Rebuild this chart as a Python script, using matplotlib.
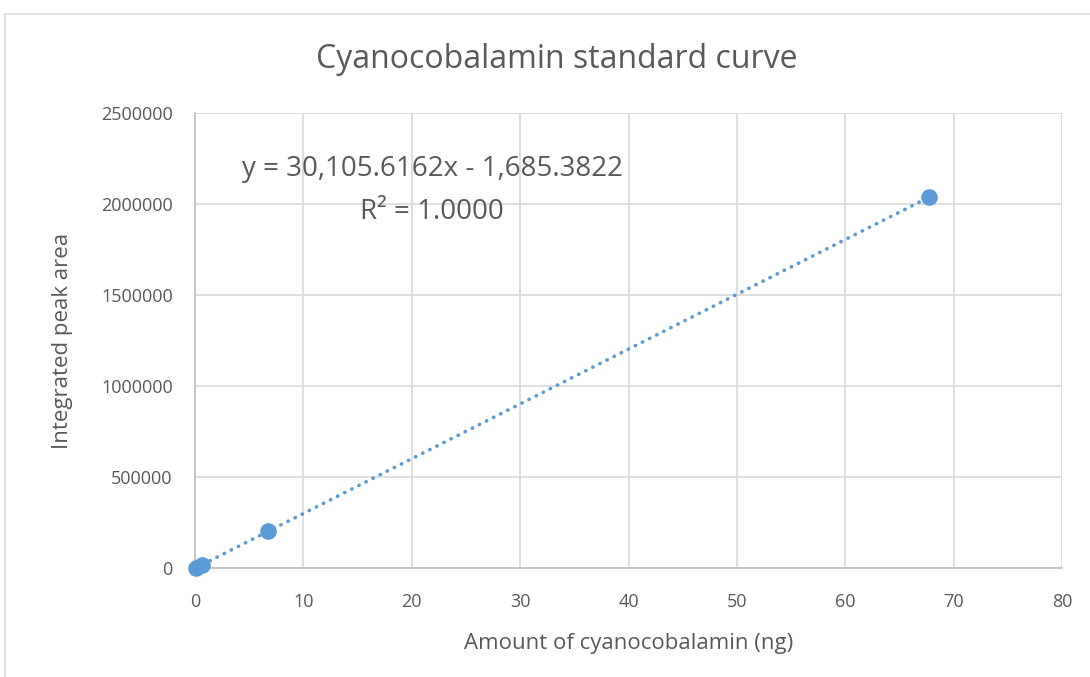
import numpy as np
import matplotlib.pyplot as plt
from matplotlib.patches import Rectangle

# data
amount_ng = [0.0677, 0.677, 6.77, 67.7]
peak_area = [350, 18700, 202000, 2036000]
slope = 30105.6162
intercept = -1685.3822

plt.rcParams['font.family'] = ['Open Sans', 'DejaVu Sans']
txt = '#595959'
grid_c = '#d9d9d9'
blue = '#5b9bd5'

fig = plt.figure(figsize=(10.9, 6.77), dpi=100)
fig.patches.append(Rectangle((5 / 1090, -0.1), 1.2, 1 - 14 / 677 + 0.1,
                             transform=fig.transFigure, fill=False,
                             edgecolor=grid_c, linewidth=1.2))
ax = fig.add_axes([195 / 1090, 1 - 568 / 677, 867 / 1090, 455 / 677])

xs = np.array([min(amount_ng), max(amount_ng)])
ax.plot(xs, slope * xs + intercept, linestyle=(0, (0.1, 2.1)), color=blue,
        linewidth=2.6, dash_capstyle='round', zorder=2)
ax.scatter(amount_ng, peak_area, s=120, color=blue, zorder=3, clip_on=False)

ax.set_xlim(0, 80)
ax.set_ylim(0, 2500000)
ax.set_xticks(range(0, 81, 10))
ax.set_yticks(range(0, 2500001, 500000))
ax.set_yticklabels([str(v) for v in range(0, 2500001, 500000)])
ax.grid(True, color=grid_c, linewidth=1.2)
ax.set_axisbelow(True)
for s in ['top', 'right']:
    ax.spines[s].set_visible(False)
for s in ['left', 'bottom']:
    ax.spines[s].set_color('#bfbfbf')
    ax.spines[s].set_linewidth(1.2)
ax.tick_params(length=0, colors=txt, labelsize=13)
ax.tick_params(axis='x', pad=18)
ax.tick_params(axis='y', pad=16)

fig.text(557 / 1090, 1 - 60 / 677, 'Cyanocobalamin standard curve',
         ha='center', va='center', fontsize=23, color=txt)
ax.set_xlabel('Amount of cyanocobalamin (ng)', fontsize=16, color=txt, labelpad=16)
ax.set_ylabel('Integrated peak area', fontsize=16, color=txt, labelpad=20)

ax.text(21.9, 2074000, 'y = 30,105.6162x - 1,685.3822\nR² = 1.0000',
        ha='center', va='center', fontsize=20, color=txt, linespacing=1.7)

fig.savefig('out.png', dpi=100)
